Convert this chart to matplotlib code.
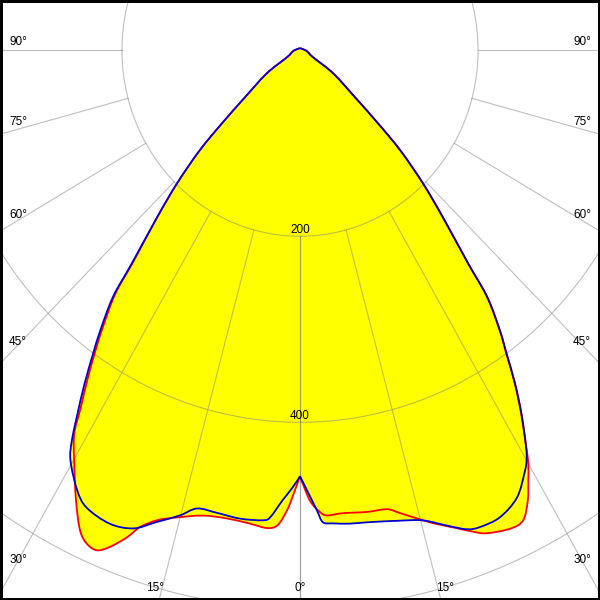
import numpy as np
import matplotlib.pyplot as plt
from matplotlib.path import Path
from matplotlib.patches import PathPatch

plt.rcParams['font.family'] = ['Liberation Sans', 'DejaVu Sans']

# luminous intensity in cd against gamma angle (deg), C0-C180 plane (red) and C90-C270 plane (blue)
red_left_ang = [0, 0.95, 1.7, 2.8, 4.1, 6.3, 9.3, 12.3, 15.4, 17.6, 19.3, 20.4, 21.8, 23.0, 24.3,
                25.6, 27.5, 29.9, 31.6, 32.6, 34.0, 35.5, 36.7, 38.4, 39.5, 41.8,
                44.0, 46.3, 48.1, 50.7, 56.3, 62.8, 82, 108, 180]
red_left_cd = [458, 479, 495, 511, 515, 512, 510, 512, 521, 530, 543, 559, 575, 584, 582,
               572, 545, 509, 484, 458, 427, 395, 370, 334, 294, 240,
               198, 156, 118, 80, 45, 16.4, 8, 3.6, 2.2]

red_right_ang = [0, 1.3, 2.6, 3.5, 5.5, 8.6, 11.2, 12.7, 14.6, 16.4, 18.9, 20.6, 22.0, 24.7, 26.4,
                 27.9, 29.0, 30.0, 30.8, 32.5, 34.0, 35.45, 36.7, 38.4, 39.5, 41.8,
                 44.0, 46.3, 48.1, 50.7, 56.3, 62.8, 82, 108, 180]
red_right_cd = [458, 484, 497, 501, 500, 502, 503, 510, 520, 530, 543, 553, 560, 566, 564,
                547, 529, 513, 496, 462, 431, 399, 375, 338, 296, 240,
                198, 156, 118, 80, 45, 16.4, 8, 3.6, 2.2]

blue_left_ang = [0, 1.0, 2.3, 3.8, 4.7, 7.6, 10.6, 13.2, 15.1, 17.6, 20.0, 22.8, 26.0, 27.9, 30.3,
                 31.4, 32.6, 34.0, 35.5, 36.7, 38.4, 39.5, 41.8, 44.0, 46.3, 48.1,
                 50.7, 56.3, 62.8, 82, 108, 180]
blue_left_cd = [458, 470, 484, 503, 507, 508, 506, 506, 518, 532, 547, 552, 547, 535, 511,
                492, 464, 433, 400, 375, 338, 297, 241, 199, 156, 118,
                80, 45, 16.4, 8, 3.6, 2.2]

blue_right_ang = [0, 0.95, 2.2, 2.9, 4.2, 6.3, 8.4, 12.5, 15.3, 17.9, 20.0, 21.5, 24.1, 26.9, 29.2,
                  30.0, 30.8, 32.5, 34.0, 35.45, 36.7, 38.4, 39.5, 41.8, 44.0, 46.3,
                  48.1, 50.7, 56.3, 62.8, 82, 108, 180]
blue_right_cd = [458, 473, 495, 508, 510, 512, 513, 518, 524, 537, 548, 551, 550, 539, 518,
                 509, 496, 463, 432, 400, 376, 339, 297, 241, 199, 156,
                 118, 80, 45, 16.4, 8, 3.6, 2.2]

ring_values = [200, 400, 600]
ray_angles = [0, 15, 30, 45, 60, 75, 90]


def to_xy(ang, cd, side):
    a = np.radians(ang)
    cd = np.asarray(cd, dtype=float)
    return side * cd * np.sin(a), -cd * np.cos(a)


def plane_path(l_ang, l_cd, r_ang, r_cd):
    # left half top->bottom, then right half bottom->top; smooth bezier, sharp at the 0 deg cusp
    xl, yl = to_xy(l_ang, l_cd, -1)
    xr, yr = to_xy(r_ang, r_cd, 1)
    pts = np.column_stack([np.concatenate([xl[::-1], xr[1:]]),
                           np.concatenate([yl[::-1], yr[1:]])])
    n = len(pts)
    corners = {0, len(xl) - 1, n - 1}
    verts = [pts[0]]
    codes = [Path.MOVETO]
    for i in range(n - 1):
        p1, p2 = pts[i], pts[i + 1]
        p0 = pts[i - 1] if (i > 0 and i not in corners) else p1
        p3 = pts[i + 2] if (i + 2 < n and (i + 1) not in corners) else p2
        verts += [p1 + (p2 - p0) / 6.0, p2 - (p3 - p1) / 6.0, p2]
        codes += [Path.CURVE4] * 3
    return Path(verts, codes)


fig = plt.figure(figsize=(6, 6), dpi=100)
ax = fig.add_axes([0, 0, 1, 1])
x0, x1 = -337, 337
y0, y1 = -591, 54
ax.set_xlim(x0, x1)
ax.set_ylim(y0, y1)
ax.set_xticks([])
ax.set_yticks([])
for s in ax.spines.values():
    s.set_color('black')
    s.set_linewidth(3.6)

red_path = plane_path(red_left_ang, red_left_cd, red_right_ang, red_right_cd)
blue_path = plane_path(blue_left_ang, blue_left_cd, blue_right_ang, blue_right_cd)
for p in (red_path, blue_path):
    ax.add_patch(PathPatch(p, facecolor='#ffff00', edgecolor='none', zorder=1))

# grid: rings and rays (rays start at the first ring)
grid_kw = dict(color='#808080', lw=0.8, alpha=0.5, zorder=2)
t = np.linspace(0, 2 * np.pi, 500)
for v in ring_values:
    ax.plot(v * np.sin(t), v * np.cos(t), **grid_kw)
for g in ray_angles:
    a = np.radians(g)
    for side in (-1, 1):
        ax.plot([side * 200 * np.sin(a), side * 1500 * np.sin(a)],
                [-200 * np.cos(a), -1500 * np.cos(a)], **grid_kw)

ax.add_patch(PathPatch(red_path, facecolor='none', edgecolor='#ff0000', lw=1.3, zorder=3))
ax.add_patch(PathPatch(blue_path, facecolor='none', edgecolor='#0000d0', lw=1.3, zorder=4))

# ring labels
for v in ring_values:
    ax.annotate(str(v), (0, -v), xytext=(0, 2.5), textcoords='offset points',
                ha='center', va='baseline', fontsize=8.5, zorder=5)

# angle labels
px_x = (x1 - x0) / 600.0
px_y = (y1 - y0) / 600.0
for g in ray_angles:
    a = np.radians(g)
    if g >= 30:
        xd = -(300 - 18) * px_x
        yd = -abs(xd) / np.tan(a) if g < 90 else 0.0
        lift = 8 * np.sin(a) ** 3 * px_y
        for side in (-1, 1):
            ax.text(side * xd, yd + lift, f'{g}°', ha='center', va='center', fontsize=8.5, zorder=5)
    else:
        yd = -(588 - 50) * px_y
        xd = abs(yd) * np.tan(a)
        if g == 0:
            ax.text(0, yd, '0°', ha='center', va='center', fontsize=8.5, zorder=5)
        else:
            for side in (-1, 1):
                ax.text(side * xd - side * 2 * px_x, yd, f'{g}°',
                        ha='right' if side < 0 else 'left', va='center', fontsize=8.5, zorder=5)

fig.savefig('out.png', dpi=100)
